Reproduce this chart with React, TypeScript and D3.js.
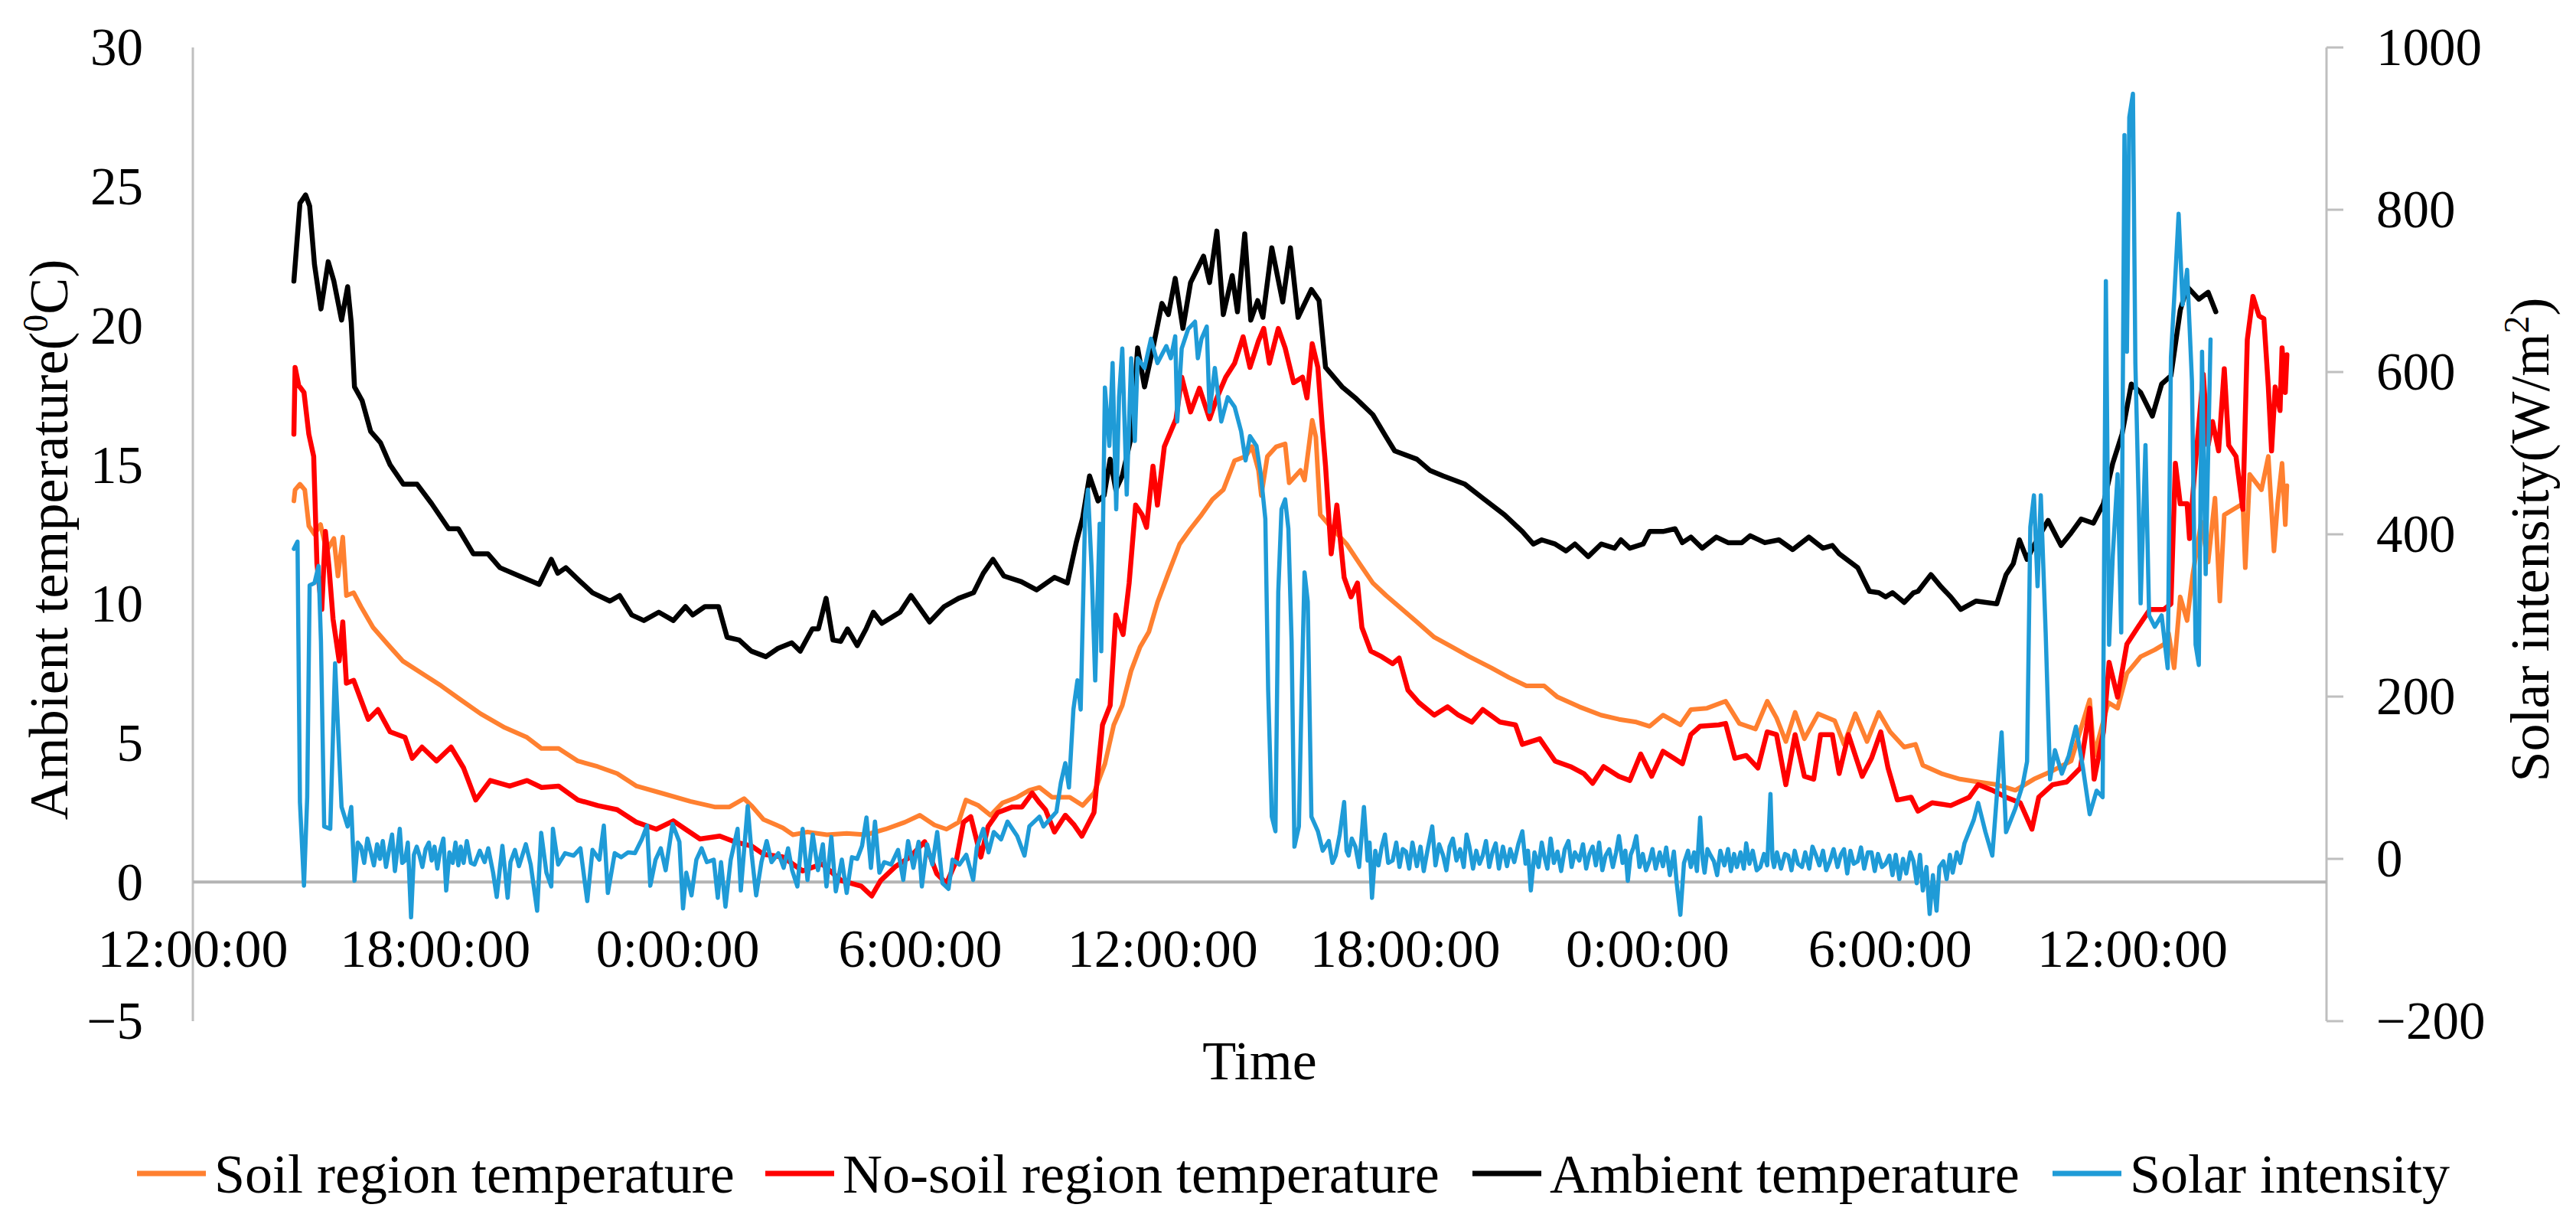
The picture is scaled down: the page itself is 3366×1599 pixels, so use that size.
import * as d3 from "d3";

// time axis is hours after 12:00:00 on the first day
const timeTicks = [0, 6, 12, 18, 24, 30, 36, 42, 48];
const timeLabels = ["12:00:00", "18:00:00", "0:00:00", "6:00:00", "12:00:00", "18:00:00", "0:00:00", "6:00:00", "12:00:00"];
const tempTicks = [-5, 0, 5, 10, 15, 20, 25, 30];
const solarTicks = [-200, 0, 200, 400, 600, 800, 1000];

const soil: [number, number][] = [
  [2.5, 13.7], [2.53, 14.1], [2.65, 14.3], [2.77, 14.1], [2.87, 12.8], [3.01, 12.5], [3.16, 12.85], [3.31, 11.9],
  [3.49, 12.35], [3.59, 11.0], [3.71, 12.4], [3.8, 10.3], [3.98, 10.4], [4.16, 9.9], [4.46, 9.15], [4.82, 8.55],
  [5.19, 7.95], [5.67, 7.5], [6.15, 7.05], [6.63, 6.55], [7.12, 6.05], [7.72, 5.55], [8.27, 5.2], [8.63, 4.8],
  [9.05, 4.8], [9.53, 4.35], [10.02, 4.15], [10.5, 3.9], [10.98, 3.45], [11.59, 3.2], [12.31, 2.9], [12.91, 2.7],
  [13.28, 2.7], [13.64, 3.0], [13.82, 2.75], [14.12, 2.25], [14.6, 1.95], [14.85, 1.7], [15.21, 1.8], [15.69, 1.7],
  [16.18, 1.75], [16.66, 1.7], [17.14, 1.9], [17.62, 2.15], [17.99, 2.4], [18.35, 2.05], [18.65, 1.9], [18.95, 2.15],
  [19.13, 2.95], [19.44, 2.75], [19.74, 2.4], [20.04, 2.85], [20.4, 3.05], [20.7, 3.3], [20.95, 3.4], [21.26, 3.05],
  [21.7, 3.05], [22.02, 2.75], [22.3, 3.2], [22.57, 4.25], [22.79, 5.65], [23.0, 6.35], [23.22, 7.6], [23.44, 8.45],
  [23.66, 9.0], [23.87, 10.05], [24.14, 11.1], [24.42, 12.15], [24.69, 12.7], [24.96, 13.2], [25.23, 13.75], [25.5, 14.1],
  [25.78, 15.15], [26.05, 15.3], [26.21, 15.65], [26.37, 14.8], [26.44, 13.9], [26.59, 15.3], [26.81, 15.65], [27.03, 15.75],
  [27.13, 14.35], [27.41, 14.8], [27.51, 14.45], [27.7, 16.6], [27.79, 16.0], [27.9, 13.2], [28.11, 12.85], [28.33, 12.5],
  [28.55, 12.15], [28.87, 11.45], [29.2, 10.75], [29.53, 10.3], [29.85, 9.9], [30.29, 9.35], [30.72, 8.8], [31.16, 8.45],
  [31.59, 8.1], [32.13, 7.7], [32.57, 7.35], [33.0, 7.05], [33.44, 7.05], [33.77, 6.65], [34.31, 6.3], [34.85, 6.0],
  [35.29, 5.85], [35.72, 5.75], [36.05, 5.6], [36.38, 6.0], [36.81, 5.65], [37.07, 6.2], [37.47, 6.25], [37.93, 6.5],
  [38.27, 5.7], [38.67, 5.5], [38.96, 6.5], [39.19, 5.9], [39.42, 5.05], [39.65, 6.1], [39.88, 5.15], [40.22, 6.05],
  [40.63, 5.8], [40.86, 4.95], [41.14, 6.05], [41.43, 5.05], [41.72, 6.1], [42.0, 5.4], [42.35, 4.85], [42.63, 4.95],
  [42.81, 4.2], [43.27, 3.9], [43.73, 3.7], [44.18, 3.6], [44.64, 3.5], [45.1, 3.3], [45.56, 3.7], [46.02, 4.0],
  [46.48, 4.35], [46.94, 6.55], [47.05, 4.55], [47.4, 6.45], [47.63, 6.25], [47.86, 7.5], [48.2, 8.1], [48.55, 8.35],
  [48.78, 8.55], [48.89, 8.95], [49.03, 7.7], [49.18, 10.25], [49.35, 9.4], [49.49, 11.05], [49.7, 12.95], [49.87, 11.5],
  [50.04, 13.8], [50.16, 10.1], [50.27, 13.2], [50.5, 13.4], [50.73, 13.6], [50.79, 11.3], [50.9, 14.65], [51.19, 14.1],
  [51.36, 15.3], [51.5, 11.9], [51.59, 13.6], [51.7, 15.05], [51.78, 12.85], [51.82, 14.25],
];

const noSoil: [number, number][] = [
  [2.5, 16.1], [2.53, 18.5], [2.62, 17.85], [2.75, 17.6], [2.87, 16.1], [2.99, 15.3], [3.07, 11.45], [3.19, 9.8],
  [3.28, 12.6], [3.37, 11.3], [3.47, 9.45], [3.62, 7.95], [3.71, 9.35], [3.8, 7.15], [3.98, 7.25], [4.16, 6.55],
  [4.34, 5.85], [4.58, 6.2], [4.88, 5.4], [5.25, 5.2], [5.43, 4.45], [5.67, 4.85], [6.03, 4.35], [6.39, 4.85],
  [6.7, 4.1], [7.0, 2.95], [7.36, 3.65], [7.84, 3.45], [8.27, 3.65], [8.63, 3.4], [9.05, 3.45], [9.53, 2.95],
  [10.02, 2.75], [10.5, 2.6], [10.98, 2.15], [11.47, 1.9], [11.89, 2.2], [12.19, 1.9], [12.55, 1.55], [13.04, 1.65],
  [13.4, 1.45], [13.82, 1.3], [14.12, 1.0], [14.6, 0.9], [15.09, 0.4], [15.57, 0.65], [16.05, 0.05], [16.54, -0.15],
  [16.8, -0.5], [17.02, 0.05], [17.38, 0.55], [17.75, 0.9], [18.11, 1.45], [18.41, 0.3], [18.65, -0.05], [18.89, 0.75],
  [19.07, 2.15], [19.25, 2.35], [19.5, 0.9], [19.68, 2.0], [19.92, 2.5], [20.28, 2.7], [20.52, 2.7], [20.77, 3.2],
  [20.95, 2.85], [21.1, 2.6], [21.32, 1.8], [21.59, 2.4], [21.81, 2.05], [22.0, 1.65], [22.3, 2.5], [22.51, 5.65],
  [22.7, 6.35], [22.84, 9.6], [23.02, 8.9], [23.17, 10.75], [23.33, 13.55], [23.49, 13.2], [23.6, 12.75], [23.76, 14.95],
  [23.87, 13.55], [24.04, 15.65], [24.2, 16.2], [24.33, 16.65], [24.47, 18.15], [24.69, 16.9], [24.91, 17.75], [25.16, 16.65],
  [25.34, 17.4], [25.56, 18.15], [25.78, 18.65], [25.99, 19.6], [26.16, 18.5], [26.37, 19.45], [26.5, 19.9], [26.64, 18.65],
  [26.86, 19.9], [27.03, 19.2], [27.24, 17.95], [27.46, 18.15], [27.57, 17.4], [27.7, 19.35], [27.84, 18.5], [27.95, 16.35],
  [28.03, 14.95], [28.17, 11.8], [28.31, 13.55], [28.49, 10.95], [28.66, 10.25], [28.82, 10.75], [28.93, 9.15], [29.15, 8.3],
  [29.42, 8.1], [29.69, 7.85], [29.85, 8.05], [30.07, 6.9], [30.34, 6.45], [30.72, 6.0], [31.05, 6.3], [31.32, 6.0],
  [31.65, 5.75], [31.92, 6.2], [32.35, 5.75], [32.73, 5.65], [32.9, 4.95], [33.33, 5.15], [33.71, 4.35], [34.09, 4.15],
  [34.42, 3.9], [34.64, 3.55], [34.91, 4.15], [35.29, 3.8], [35.56, 3.65], [35.83, 4.6], [36.1, 3.8], [36.38, 4.7],
  [36.65, 4.45], [36.86, 4.25], [37.07, 5.3], [37.3, 5.6], [37.76, 5.65], [37.93, 5.7], [38.16, 4.45], [38.44, 4.55],
  [38.73, 4.1], [38.96, 5.4], [39.19, 5.3], [39.42, 3.5], [39.65, 5.3], [39.88, 3.8], [40.11, 3.7], [40.28, 5.3],
  [40.57, 5.3], [40.74, 3.9], [40.97, 5.3], [41.31, 3.8], [41.54, 4.45], [41.77, 5.4], [41.95, 4.1], [42.18, 2.95],
  [42.52, 3.05], [42.69, 2.55], [43.04, 2.85], [43.5, 2.75], [43.96, 3.05], [44.18, 3.5], [44.53, 3.3], [44.87, 3.05],
  [45.22, 2.85], [45.51, 1.9], [45.68, 3.05], [46.02, 3.5], [46.37, 3.6], [46.71, 4.1], [46.94, 6.25], [47.05, 3.7],
  [47.28, 5.4], [47.42, 7.9], [47.63, 6.65], [47.86, 8.55], [48.15, 9.2], [48.43, 9.8], [48.78, 9.8], [48.95, 10.0],
  [49.06, 15.05], [49.18, 13.6], [49.35, 13.6], [49.41, 12.35], [49.52, 14.45], [49.75, 18.25], [49.87, 15.7], [49.98, 16.55],
  [50.13, 15.5], [50.27, 18.45], [50.38, 15.7], [50.56, 15.3], [50.73, 13.4], [50.84, 19.5], [50.98, 21.05], [51.13, 20.35],
  [51.25, 20.25], [51.36, 17.8], [51.44, 15.5], [51.53, 17.8], [51.65, 16.95], [51.7, 19.2], [51.78, 17.6], [51.82, 18.95],
];

const ambient: [number, number][] = [
  [2.5, 21.6], [2.65, 24.4], [2.79, 24.7], [2.89, 24.3], [3.01, 22.2], [3.17, 20.6], [3.35, 22.3], [3.49, 21.6],
  [3.68, 20.2], [3.83, 21.4], [3.92, 20.1], [4.0, 17.8], [4.19, 17.3], [4.4, 16.2], [4.64, 15.8], [4.88, 15.0],
  [5.21, 14.3], [5.55, 14.3], [5.91, 13.6], [6.33, 12.7], [6.57, 12.7], [6.94, 11.8], [7.3, 11.8], [7.6, 11.3],
  [8.08, 11.0], [8.57, 10.7], [8.87, 11.6], [9.03, 11.1], [9.23, 11.3], [9.59, 10.8], [9.89, 10.4], [10.32, 10.1],
  [10.56, 10.3], [10.86, 9.6], [11.16, 9.4], [11.53, 9.7], [11.89, 9.4], [12.19, 9.9], [12.37, 9.6], [12.67, 9.9],
  [13.01, 9.9], [13.22, 8.8], [13.52, 8.7], [13.82, 8.3], [14.18, 8.1], [14.48, 8.4], [14.82, 8.6], [15.03, 8.3],
  [15.33, 9.1], [15.48, 9.1], [15.67, 10.2], [15.84, 8.7], [16.03, 8.65], [16.2, 9.1], [16.44, 8.5], [16.66, 9.1],
  [16.84, 9.7], [17.05, 9.3], [17.5, 9.7], [17.77, 10.3], [18.23, 9.35], [18.59, 9.9], [18.95, 10.2], [19.32, 10.4],
  [19.56, 11.1], [19.8, 11.6], [20.07, 11.0], [20.5, 10.8], [20.88, 10.5], [21.32, 10.95], [21.64, 10.75], [21.86, 12.2],
  [22.02, 13.1], [22.19, 14.6], [22.4, 13.7], [22.55, 13.9], [22.7, 15.2], [22.84, 14.1], [23.0, 14.6], [23.22, 16.0],
  [23.38, 19.2], [23.55, 17.8], [23.76, 19.2], [23.98, 20.8], [24.14, 20.4], [24.31, 21.7], [24.5, 19.9], [24.69, 21.55],
  [24.91, 22.2], [25.01, 22.5], [25.16, 21.55], [25.34, 23.4], [25.5, 20.4], [25.72, 21.8], [25.85, 20.5], [26.03, 23.3],
  [26.18, 20.2], [26.35, 20.9], [26.48, 20.3], [26.7, 22.8], [26.97, 20.85], [27.16, 22.8], [27.35, 20.3], [27.68, 21.3],
  [27.87, 20.9], [28.03, 18.5], [28.44, 17.8], [28.77, 17.4], [29.2, 16.8], [29.53, 16.0], [29.74, 15.5], [30.29, 15.2],
  [30.61, 14.8], [30.94, 14.6], [31.48, 14.3], [31.92, 13.8], [32.46, 13.2], [32.9, 12.6], [33.17, 12.15], [33.38, 12.3],
  [33.71, 12.15], [33.98, 11.9], [34.2, 12.15], [34.53, 11.7], [34.85, 12.15], [35.18, 12.0], [35.34, 12.3], [35.56, 12.0],
  [35.89, 12.15], [36.05, 12.6], [36.38, 12.6], [36.68, 12.7], [36.86, 12.2], [37.07, 12.4], [37.35, 12.0], [37.7, 12.4],
  [37.99, 12.2], [38.33, 12.2], [38.54, 12.45], [38.9, 12.2], [39.25, 12.3], [39.59, 11.95], [39.99, 12.4], [40.34, 12.0],
  [40.57, 12.1], [40.74, 11.8], [41.2, 11.3], [41.49, 10.45], [41.72, 10.4], [41.89, 10.25], [42.06, 10.4], [42.35, 10.05],
  [42.58, 10.4], [42.69, 10.45], [43.01, 11.05], [43.27, 10.6], [43.5, 10.25], [43.75, 9.8], [44.13, 10.1], [44.64, 10.0],
  [44.87, 11.05], [45.05, 11.45], [45.2, 12.3], [45.39, 11.6], [45.56, 12.1], [45.91, 13.0], [46.23, 12.1], [46.48, 12.55],
  [46.73, 13.05], [47.03, 12.9], [47.28, 13.6], [47.51, 15.05], [47.74, 16.1], [47.97, 17.9], [48.2, 17.6], [48.49, 16.75],
  [48.72, 17.9], [48.95, 18.2], [49.18, 20.55], [49.35, 21.4], [49.64, 20.95], [49.87, 21.2], [50.06, 20.5],
];

const solar: [number, number][] = [
  [2.5, 382], [2.59, 391], [2.65, 70], [2.75, -33], [2.83, 76], [2.89, 337], [3.01, 340], [3.11, 361],
  [3.17, 268], [3.25, 40], [3.4, 37], [3.52, 241], [3.68, 64], [3.83, 40], [3.92, 64], [4.0, -27],
  [4.08, 20], [4.16, 15], [4.24, -5], [4.32, 25], [4.4, 9], [4.48, -8], [4.56, 18], [4.63, 0],
  [4.7, 22], [4.78, -10], [4.86, 12], [4.93, 30], [5.0, -15], [5.06, 10], [5.12, 37], [5.18, -5],
  [5.25, -2], [5.32, 20], [5.4, -72], [5.47, 5], [5.54, 15], [5.61, 4], [5.68, -10], [5.76, 12],
  [5.84, 20], [5.91, -2], [5.98, 15], [6.05, -12], [6.12, 10], [6.2, 25], [6.27, -39], [6.35, 8],
  [6.43, -5], [6.5, 20], [6.57, -8], [6.63, 15], [6.7, -5], [6.78, 22], [6.88, -5], [6.97, -7],
  [7.1, 10], [7.22, -4], [7.31, 13], [7.43, -17], [7.52, -47], [7.6, -11], [7.66, 16], [7.73, -17],
  [7.79, -48], [7.86, -4], [7.97, 11], [8.07, -9], [8.24, 18], [8.36, -7], [8.52, -64], [8.62, 32],
  [8.75, -17], [8.87, -34], [8.91, 37], [9.04, -7], [9.21, 7], [9.42, 4], [9.59, 13], [9.76, -52],
  [9.89, 11], [10.06, -1], [10.17, 41], [10.27, -42], [10.44, 7], [10.6, 2], [10.77, 8], [10.94, 7],
  [11.11, 24], [11.24, 41], [11.32, -33], [11.45, -1], [11.58, 13], [11.7, -14], [11.87, 43], [12.04, 21],
  [12.13, -61], [12.21, -17], [12.34, -45], [12.46, -1], [12.59, 13], [12.72, -4], [12.89, -1], [12.99, -48],
  [13.07, -4], [13.18, -59], [13.31, -1], [13.48, 37], [13.56, -39], [13.73, 65], [13.83, 5], [13.94, -45],
  [14.07, -4], [14.2, 22], [14.32, -4], [14.49, 7], [14.62, -11], [14.73, 13], [14.83, -14], [14.96, -34],
  [15.09, 37], [15.21, -26], [15.34, 30], [15.47, -14], [15.59, 18], [15.68, -34], [15.8, 27], [15.91, -40],
  [16.06, -1], [16.18, -42], [16.31, 2], [16.44, 0], [16.56, 16], [16.67, 51], [16.78, -11], [16.88, 46],
  [16.99, -17], [17.11, -4], [17.28, -7], [17.45, 11], [17.58, -26], [17.7, 22], [17.83, -11], [17.96, 21],
  [18.04, -34], [18.17, 18], [18.3, -7], [18.42, 33], [18.55, -30], [18.7, -37], [18.8, -1], [18.97, -7],
  [19.14, 5], [19.31, -26], [19.4, 14], [19.56, 37], [19.69, 8], [19.82, 33], [20.0, 24], [20.16, 46],
  [20.4, 28], [20.58, 4], [20.7, 40], [20.95, 52], [21.05, 40], [21.37, 58], [21.48, 94], [21.59, 118],
  [21.68, 88], [21.79, 184], [21.89, 220], [21.97, 184], [22.08, 425], [22.15, 455], [22.24, 359], [22.33, 220],
  [22.44, 413], [22.48, 256], [22.57, 581], [22.68, 509], [22.76, 611], [22.85, 431], [22.92, 569], [23.0, 629],
  [23.11, 449], [23.22, 617], [23.31, 515], [23.38, 617], [23.55, 605], [23.71, 641], [23.87, 611], [24.09, 632],
  [24.2, 617], [24.31, 644], [24.36, 539], [24.47, 629], [24.63, 653], [24.8, 662], [24.87, 617], [24.96, 641],
  [25.09, 656], [25.16, 551], [25.29, 605], [25.45, 539], [25.61, 569], [25.78, 557], [25.94, 527], [26.05, 491],
  [26.16, 521], [26.32, 509], [26.43, 473], [26.54, 419], [26.61, 208], [26.7, 52], [26.79, 34], [26.86, 329],
  [26.94, 431], [27.03, 443], [27.11, 407], [27.19, 268], [27.26, 15], [27.37, 40], [27.44, 208], [27.51, 353],
  [27.59, 317], [27.68, 52], [27.84, 34], [27.96, 10], [28.11, 22], [28.2, -5], [28.28, 4], [28.38, 30],
  [28.49, 70], [28.55, 10], [28.6, 4], [28.68, 25], [28.77, 15], [28.86, -10], [28.98, 64], [29.07, -2],
  [29.12, 20], [29.18, -48], [29.26, 10], [29.34, -8], [29.42, 15], [29.5, 30], [29.58, -5], [29.69, -2],
  [29.78, 20], [29.86, -10], [29.94, 12], [30.02, 9], [30.1, -12], [30.18, 20], [30.29, -9], [30.38, 15],
  [30.46, -15], [30.55, 10], [30.67, 40], [30.75, -8], [30.84, 18], [30.94, 4], [31.02, -14], [31.1, 15],
  [31.18, 25], [31.27, -2], [31.36, 12], [31.45, -10], [31.52, 30], [31.59, 15], [31.68, -12], [31.76, 10],
  [31.84, -6], [31.92, 4], [32.0, 22], [32.08, -10], [32.16, 8], [32.24, 19], [32.32, -12], [32.42, 15],
  [32.52, -9], [32.6, 12], [32.7, -4], [32.8, 18], [32.9, 34], [32.98, -6], [33.04, 10], [33.11, -39],
  [33.2, 8], [33.3, -10], [33.38, 20], [33.44, 4], [33.52, -12], [33.6, 25], [33.68, -5], [33.77, 9],
  [33.86, -15], [33.95, 12], [34.04, 22], [34.12, -10], [34.2, 8], [34.31, -2], [34.4, 18], [34.48, -12],
  [34.56, 6], [34.64, 15], [34.72, -8], [34.8, 20], [34.88, -14], [34.96, 4], [35.05, 12], [35.14, -10],
  [35.22, 8], [35.29, 28], [35.38, -5], [35.45, 10], [35.51, -27], [35.58, 5], [35.65, 14], [35.72, 28],
  [35.8, -10], [35.88, 6], [35.96, -14], [36.05, -2], [36.12, 12], [36.2, -12], [36.3, 8], [36.38, -9],
  [36.46, 14], [36.55, -20], [36.65, 9], [36.72, -30], [36.81, -69], [36.9, -5], [37.0, 10], [37.07, -10],
  [37.15, 8], [37.22, -15], [37.3, 51], [37.36, 0], [37.41, -17], [37.48, 12], [37.55, 5], [37.64, -3],
  [37.72, -20], [37.8, 10], [37.9, -8], [37.99, 12], [38.06, -15], [38.14, 6], [38.21, -10], [38.3, 8],
  [38.38, -12], [38.44, 19], [38.52, -6], [38.6, 10], [38.7, -14], [38.79, -10], [38.88, 6], [38.96, -8],
  [39.04, 80], [39.09, 0], [39.13, -10], [39.2, 8], [39.3, -12], [39.4, 6], [39.48, 4], [39.56, -14],
  [39.64, 10], [39.72, -6], [39.82, -10], [39.9, 8], [40.0, -12], [40.08, 15], [40.17, 4], [40.25, -8],
  [40.34, 10], [40.42, -14], [40.51, -3], [40.6, 12], [40.7, -10], [40.78, 5], [40.86, 12], [40.94, -18],
  [41.02, 10], [41.1, -6], [41.2, -3], [41.28, 14], [41.36, -12], [41.45, 8], [41.54, 8], [41.62, -15],
  [41.7, 6], [41.8, -10], [41.89, -6], [41.98, 4], [42.06, -20], [42.14, 5], [42.23, -25], [42.32, 0],
  [42.4, -18], [42.5, 8], [42.58, -3], [42.66, -30], [42.74, 5], [42.81, -39], [42.9, -10], [42.98, -68],
  [43.06, -20], [43.15, -64], [43.22, -10], [43.32, -3], [43.4, -25], [43.48, 5], [43.55, -17], [43.65, 8],
  [43.74, -5], [43.84, 19], [44.07, 48], [44.18, 69], [44.36, 33], [44.53, 4], [44.76, 156], [44.87, 33],
  [45.1, 62], [45.28, 91], [45.39, 120], [45.47, 409], [45.56, 448], [45.65, 336], [45.73, 448], [45.85, 279],
  [45.96, 98], [46.08, 134], [46.25, 105], [46.42, 127], [46.6, 163], [46.77, 113], [46.94, 55], [47.11, 84],
  [47.26, 76], [47.34, 712], [47.42, 264], [47.51, 373], [47.63, 474], [47.72, 279], [47.8, 892], [47.86, 625],
  [47.92, 914], [48.01, 943], [48.07, 611], [48.15, 445], [48.2, 315], [48.32, 510], [48.41, 300], [48.55, 286],
  [48.72, 300], [48.87, 235], [48.95, 618], [49.03, 690], [49.14, 795], [49.24, 683], [49.35, 726], [49.47, 589],
  [49.56, 264], [49.64, 239], [49.72, 625], [49.81, 351], [49.93, 640],
];

const W = 3366;
const H = 1599;
const left = 252;
const right = 3040;
const top = 62;
const bottom = 1334;
const font = "'Liberation Serif', 'Times New Roman', serif";
const axisGrey = "#bfbfbf";

const legendItems = [
  { label: "Soil region temperature", color: "#ff8030", x: 179 },
  { label: "No-soil region temperature", color: "#ff0000", x: 1000 },
  { label: "Ambient temperature", color: "#000000", x: 1924 },
  { label: "Solar intensity", color: "#1f9bd7", x: 2682 },
];

const fmt = (v: number) => (v < 0 ? `\u2212${Math.abs(v)}` : `${v}`);

export default function App() {
  const x = d3.scaleLinear().domain([0, 52.8]).range([left, right]);
  const yT = d3.scaleLinear().domain([-5, 30]).range([bottom, top]);
  const yS = d3.scaleLinear().domain([-200, 1000]).range([bottom, top]);

  const tLine = d3
    .line<[number, number]>()
    .x(d => x(d[0]))
    .y(d => yT(d[1]));
  const sLine = d3
    .line<[number, number]>()
    .x(d => x(d[0]))
    .y(d => yS(d[1]));

  return (
    <svg
      width={W}
      height={H}
      viewBox={`0 0 ${W} ${H}`}
      style={{ position: "absolute", left: 0, top: 0, background: "#fff" }}
      fontFamily={font}
    >
      <rect width={W} height={H} fill="#fff" />

      {/* axes */}
      <line x1={left} x2={left} y1={top} y2={bottom} stroke={axisGrey} strokeWidth={3} />
      <line x1={right} x2={right} y1={top} y2={bottom} stroke={axisGrey} strokeWidth={3} />
      {solarTicks.map(t => (
        <line key={t} x1={right} x2={right + 22} y1={yS(t)} y2={yS(t)} stroke={axisGrey} strokeWidth={3} />
      ))}
      <line x1={left} x2={right} y1={yT(0)} y2={yT(0)} stroke="#b4b4b4" strokeWidth={4} />

      {/* series */}
      <g fill="none" strokeLinejoin="round" strokeLinecap="round">
        <path d={tLine(soil) ?? ""} stroke="#ff8030" strokeWidth={6} />
        <path d={tLine(noSoil) ?? ""} stroke="#ff0000" strokeWidth={6.5} />
        <path d={tLine(ambient) ?? ""} stroke="#000000" strokeWidth={6.5} />
        <path d={sLine(solar) ?? ""} stroke="#1f9bd7" strokeWidth={5.5} />
      </g>

      {/* tick labels */}
      {tempTicks.map(t => (
        <text key={t} x={187} y={yT(t)} dy="0.34em" textAnchor="end" fontSize={69}>
          {fmt(t)}
        </text>
      ))}
      {solarTicks.map(t => (
        <text key={t} x={3105} y={yS(t)} dy="0.34em" textAnchor="start" fontSize={69}>
          {fmt(t)}
        </text>
      ))}
      {timeTicks.map((t, i) => (
        <text key={i} x={x(t)} y={1263} textAnchor="middle" fontSize={70}>
          {timeLabels[i]}
        </text>
      ))}

      {/* axis titles */}
      <text x={(left + right) / 2} y={1410} textAnchor="middle" fontSize={72}>
        Time
      </text>
      <text transform="translate(88,705) rotate(-90)" textAnchor="middle" fontSize={72}>
        Ambient temperature(
        <tspan dy={-26} fontSize={46}>
          0
        </tspan>
        <tspan dy={26}>C)</tspan>
      </text>
      <text transform="translate(3330,705) rotate(-90)" textAnchor="middle" fontSize={72}>
        Solar intensity(W/m
        <tspan dy={-26} fontSize={46}>
          2
        </tspan>
        <tspan dy={26}>)</tspan>
      </text>

      {/* legend */}
      {legendItems.map(item => (
        <g key={item.label}>
          <line x1={item.x} x2={item.x + 90} y1={1533} y2={1533} stroke={item.color} strokeWidth={7} />
          <text x={item.x + 101} y={1558} fontSize={72}>
            {item.label}
          </text>
        </g>
      ))}
    </svg>
  );
}
